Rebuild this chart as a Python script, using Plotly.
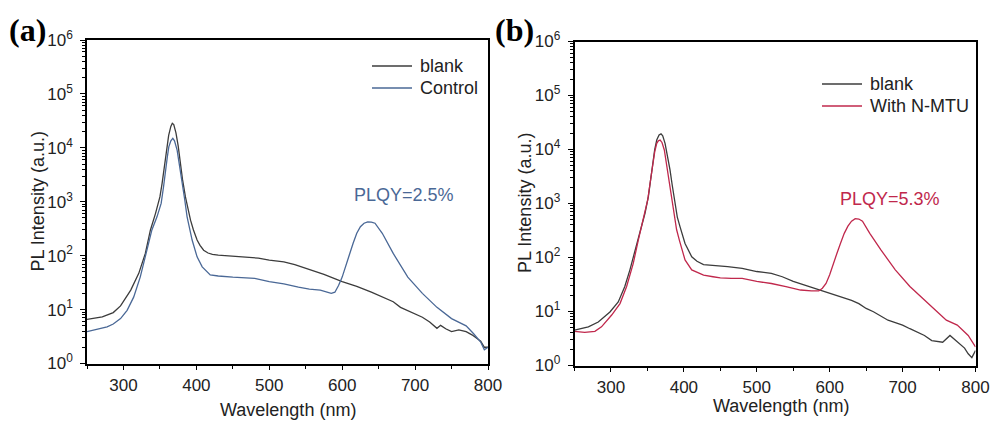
import plotly.graph_objects as go

# ---------------- data ----------------
wl_a_blank = [250, 271, 286, 296, 310, 321, 330, 337, 344, 347.6, 350, 353, 356, 359, 362, 365, 367, 369, 372, 375, 378, 381, 385, 388, 392, 396, 401, 405, 410, 416, 422, 430, 440, 455, 470, 485, 500, 510, 520, 535, 550, 575, 600, 620, 640, 660, 670, 680, 690, 700, 710, 720, 730, 735, 742, 750, 760, 770, 778, 785, 790, 795, 800]
int_a_blank = [6.6, 7.3, 8.8, 11.7, 23, 47, 110, 300, 610, 1000, 1230, 2200, 4500, 10000, 17000, 25000, 28500, 27000, 19000, 11000, 5100, 2600, 1230, 750, 455, 300, 195, 155, 126, 112, 106, 102, 100, 98, 95, 90, 83, 80, 77, 68, 58, 45, 33, 27, 21, 16, 14, 11, 9.6, 8.5, 7.2, 5.9, 4.5, 5.1, 4.4, 3.9, 4.2, 3.9, 3.4, 2.9, 2.6, 2.0, 2.0]

wl_a_ctrl = [250, 264, 277.6, 286, 296, 305, 314, 323, 332.5, 339, 346, 351.7, 355, 357.6, 360, 362.2, 365, 367.7, 370, 373.6, 377, 380.5, 384, 387.3, 391, 394.2, 401, 408, 419, 430, 450, 465, 480, 500, 520, 540, 555, 570, 585, 590, 595, 600, 605, 610, 615, 620, 625, 630, 635, 640, 645, 655, 670, 690, 710, 730, 750, 760, 770, 780, 790, 795, 800]
int_a_ctrl = [3.9, 4.3, 4.8, 5.4, 6.8, 9.7, 17, 40, 126, 300, 525, 930, 1900, 3900, 6500, 10400, 13500, 15000, 13500, 9100, 4700, 2500, 1100, 525, 300, 195, 95, 62, 44, 42, 40, 39, 38, 33, 30, 26, 24, 23, 20, 21, 28, 40, 62, 105, 170, 260, 345, 400, 425, 420, 400, 260, 110, 40, 20, 11, 6.8, 5.9, 5.0, 3.6, 2.5, 1.8, 2.0]

wl_b_blank = [250, 269, 282.6, 298.6, 310, 319, 326, 333, 340, 346.7, 351.3, 354, 356.8, 360, 362.8, 366, 368.7, 371, 374.2, 378, 381, 384, 387.9, 391, 394.8, 401.6, 410.8, 418, 427, 440, 460, 480, 500, 520, 535, 550, 565, 580, 600, 615, 630, 640, 650, 660, 670, 680, 690, 700, 710, 720, 730, 740, 755, 765, 775, 785, 790, 795, 800]
int_b_blank = [4.5, 5.2, 6.4, 9.8, 15, 29, 59, 138, 323, 660, 1340, 2600, 5600, 10000, 15000, 18500, 19500, 18000, 13000, 7500, 4200, 2200, 1000, 560, 370, 182, 103, 85, 74, 72, 68, 63, 55, 51, 44, 36, 31, 27, 22, 19, 16, 14, 11.4, 9.9, 8.3, 6.9, 6.2, 5.6, 4.8, 4.2, 3.6, 2.9, 2.7, 3.6, 2.7, 2.1, 1.65, 1.4, 1.9]

wl_b_mtu = [250, 264, 278, 287, 301, 312.4, 321.5, 330.6, 337.5, 344.4, 350.4, 353.5, 356.8, 360, 362.8, 365, 367.4, 370, 373.2, 376.5, 380, 383.5, 386.9, 390, 393.8, 401.6, 410.8, 427, 440, 450, 465, 480, 500, 520, 540, 560, 575, 585, 590, 595, 600, 605, 610, 615, 620, 625, 630, 635, 640, 645, 655, 670, 690, 710, 730, 750, 760, 775, 790, 800]
int_b_mtu = [4.3, 4.1, 4.3, 5.2, 8.6, 14, 29, 78, 210, 495, 1170, 2300, 4800, 9000, 13000, 14500, 15000, 13500, 9800, 5000, 2360, 1150, 570, 330, 210, 90, 59, 47, 44, 42, 41, 41, 36, 33, 29, 25, 24, 24, 27, 33, 48, 78, 120, 185, 280, 380, 470, 525, 515, 470, 280, 140, 59, 29, 16, 9.2, 6.9, 5.6, 3.6, 2.2]

x_ticks = [300, 400, 500, 600, 700, 800]
y_tickvals = [1, 10, 100, 1000, 10000, 100000, 1000000]
y_ticktext = ["10<sup>0</sup>", "10<sup>1</sup>", "10<sup>2</sup>", "10<sup>3</sup>",
              "10<sup>4</sup>", "10<sup>5</sup>", "10<sup>6</sup>"]

# ---------------- styling ----------------
W, H = 992, 421
C_BLANK = "#3c3c3c"
C_CTRL = "#4a6896"
C_MTU = "#c0284c"
FONT = "Liberation Sans, Arial, sans-serif"


def px(x):
    return x / W


def py(y):
    return 1 - y / H


fig = go.Figure()

fig.add_trace(go.Scatter(x=wl_a_blank, y=int_a_blank, mode="lines", name="blank",
                         line=dict(color=C_BLANK, width=1.3), xaxis="x", yaxis="y"))
fig.add_trace(go.Scatter(x=wl_a_ctrl, y=int_a_ctrl, mode="lines", name="Control",
                         line=dict(color=C_CTRL, width=1.3), xaxis="x", yaxis="y"))
fig.add_trace(go.Scatter(x=wl_b_blank, y=int_b_blank, mode="lines", name="blank",
                         line=dict(color=C_BLANK, width=1.3), xaxis="x2", yaxis="y2"))
fig.add_trace(go.Scatter(x=wl_b_mtu, y=int_b_mtu, mode="lines", name="With N-MTU",
                         line=dict(color=C_MTU, width=1.3), xaxis="x2", yaxis="y2"))

minor_y = [m * 10 ** k for k in range(0, 6) for m in range(2, 10)]
minor_x = [250, 350, 450, 550, 650, 750]

xaxis_common = dict(range=[250, 800], tickmode="array", tickvals=x_ticks, ticks="outside",
                    ticklen=5, tickwidth=1.2, tickcolor="black", automargin=False,
                    showline=True, linecolor="black", linewidth=1.5, mirror=True, showgrid=False,
                    zeroline=False, tickfont=dict(family=FONT, size=17, color="#222"),
                    minor=dict(tickmode="array", tickvals=minor_x, ticks="outside", ticklen=4,
                               tickwidth=1, tickcolor="black", showgrid=False))
yaxis_common = dict(type="log", range=[0, 6], tickmode="array", tickvals=y_tickvals,
                    ticktext=y_ticktext, ticks="outside", ticklen=5, tickwidth=1.2,
                    tickcolor="black", automargin=False,
                    showline=True, linecolor="black", linewidth=1.5, mirror=True, showgrid=False,
                    zeroline=False, tickfont=dict(family=FONT, size=17, color="#222"),
                    ticklabelstandoff=4,
                    minor=dict(tickmode="array", tickvals=minor_y, ticks="outside", ticklen=3,
                               tickwidth=1, tickcolor="black", showgrid=False))

fig.update_layout(
    template="none",
    width=W, height=H, margin=dict(l=0, r=0, t=0, b=0, autoexpand=False),
    paper_bgcolor="white", plot_bgcolor="white",
    font=dict(family=FONT, size=18, color="#222"),
    xaxis=dict(domain=[px(87), px(488)], anchor="y", **xaxis_common),
    yaxis=dict(domain=[py(363.5), py(40)], anchor="x", **yaxis_common),
    xaxis2=dict(domain=[px(574.5), px(975.5)], anchor="y2", **xaxis_common),
    yaxis2=dict(domain=[py(365.5), py(41.5)], anchor="x2", **yaxis_common),
    showlegend=False,
)

# legend keys (line samples) and labels
legend_rows = [
    (372, 412, 66, C_BLANK, "blank", 418),
    (372, 412, 88, C_CTRL, "Control", 418),
    (822, 862, 84, C_BLANK, "blank", 868),
    (822, 862, 106, C_MTU, "With N-MTU", 868),
]
shapes = []
annotations = []
for x0, x1, yy, col, label, xt in legend_rows:
    shapes.append(dict(type="line", xref="paper", yref="paper", x0=px(x0), x1=px(x1),
                       y0=py(yy), y1=py(yy), line=dict(color=col, width=1.3)))
    annotations.append(dict(text=label, x=px(xt), y=py(yy), xanchor="left", yanchor="middle",
                            font=dict(family=FONT, size=18, color="#222")))

annotations += [
    dict(text="<b>(a)</b>", x=px(7), y=py(30), xanchor="left", yanchor="middle",
         font=dict(family="Liberation Serif, Times New Roman, serif", size=32, color="black")),
    dict(text="<b>(b)</b>", x=px(493), y=py(30), xanchor="left", yanchor="middle",
         font=dict(family="Liberation Serif, Times New Roman, serif", size=32, color="black")),
    dict(text="PLQY=2.5%", x=px(404), y=py(195), xanchor="center", yanchor="middle",
         font=dict(family=FONT, size=18, color=C_CTRL)),
    dict(text="PLQY=5.3%", x=px(890), y=py(199), xanchor="center", yanchor="middle",
         font=dict(family=FONT, size=18, color=C_MTU)),
    dict(text="Wavelength (nm)", x=px(287.5), y=py(410), xanchor="center", yanchor="middle",
         font=dict(family=FONT, size=18, color="#222")),
    dict(text="Wavelength (nm)", x=px(781), y=py(406), xanchor="center", yanchor="middle",
         font=dict(family=FONT, size=18, color="#222")),
    dict(text="PL Intensity (a.u.)", x=px(37.5), y=py(202), xanchor="center", yanchor="middle",
         textangle=-90, font=dict(family=FONT, size=18, color="#222")),
    dict(text="PL Intensity (a.u.)", x=px(525), y=py(203), xanchor="center", yanchor="middle",
         textangle=-90, font=dict(family=FONT, size=18, color="#222")),
]
for a in annotations:
    a.update(xref="paper", yref="paper", showarrow=False)
fig.update_layout(annotations=annotations, shapes=shapes)

fig.write_html(
    "out.html",
    config={"displayModeBar": False},
    post_script="document.body.style.margin='0';document.body.style.padding='0';"
                "document.body.style.overflow='hidden';",
)
